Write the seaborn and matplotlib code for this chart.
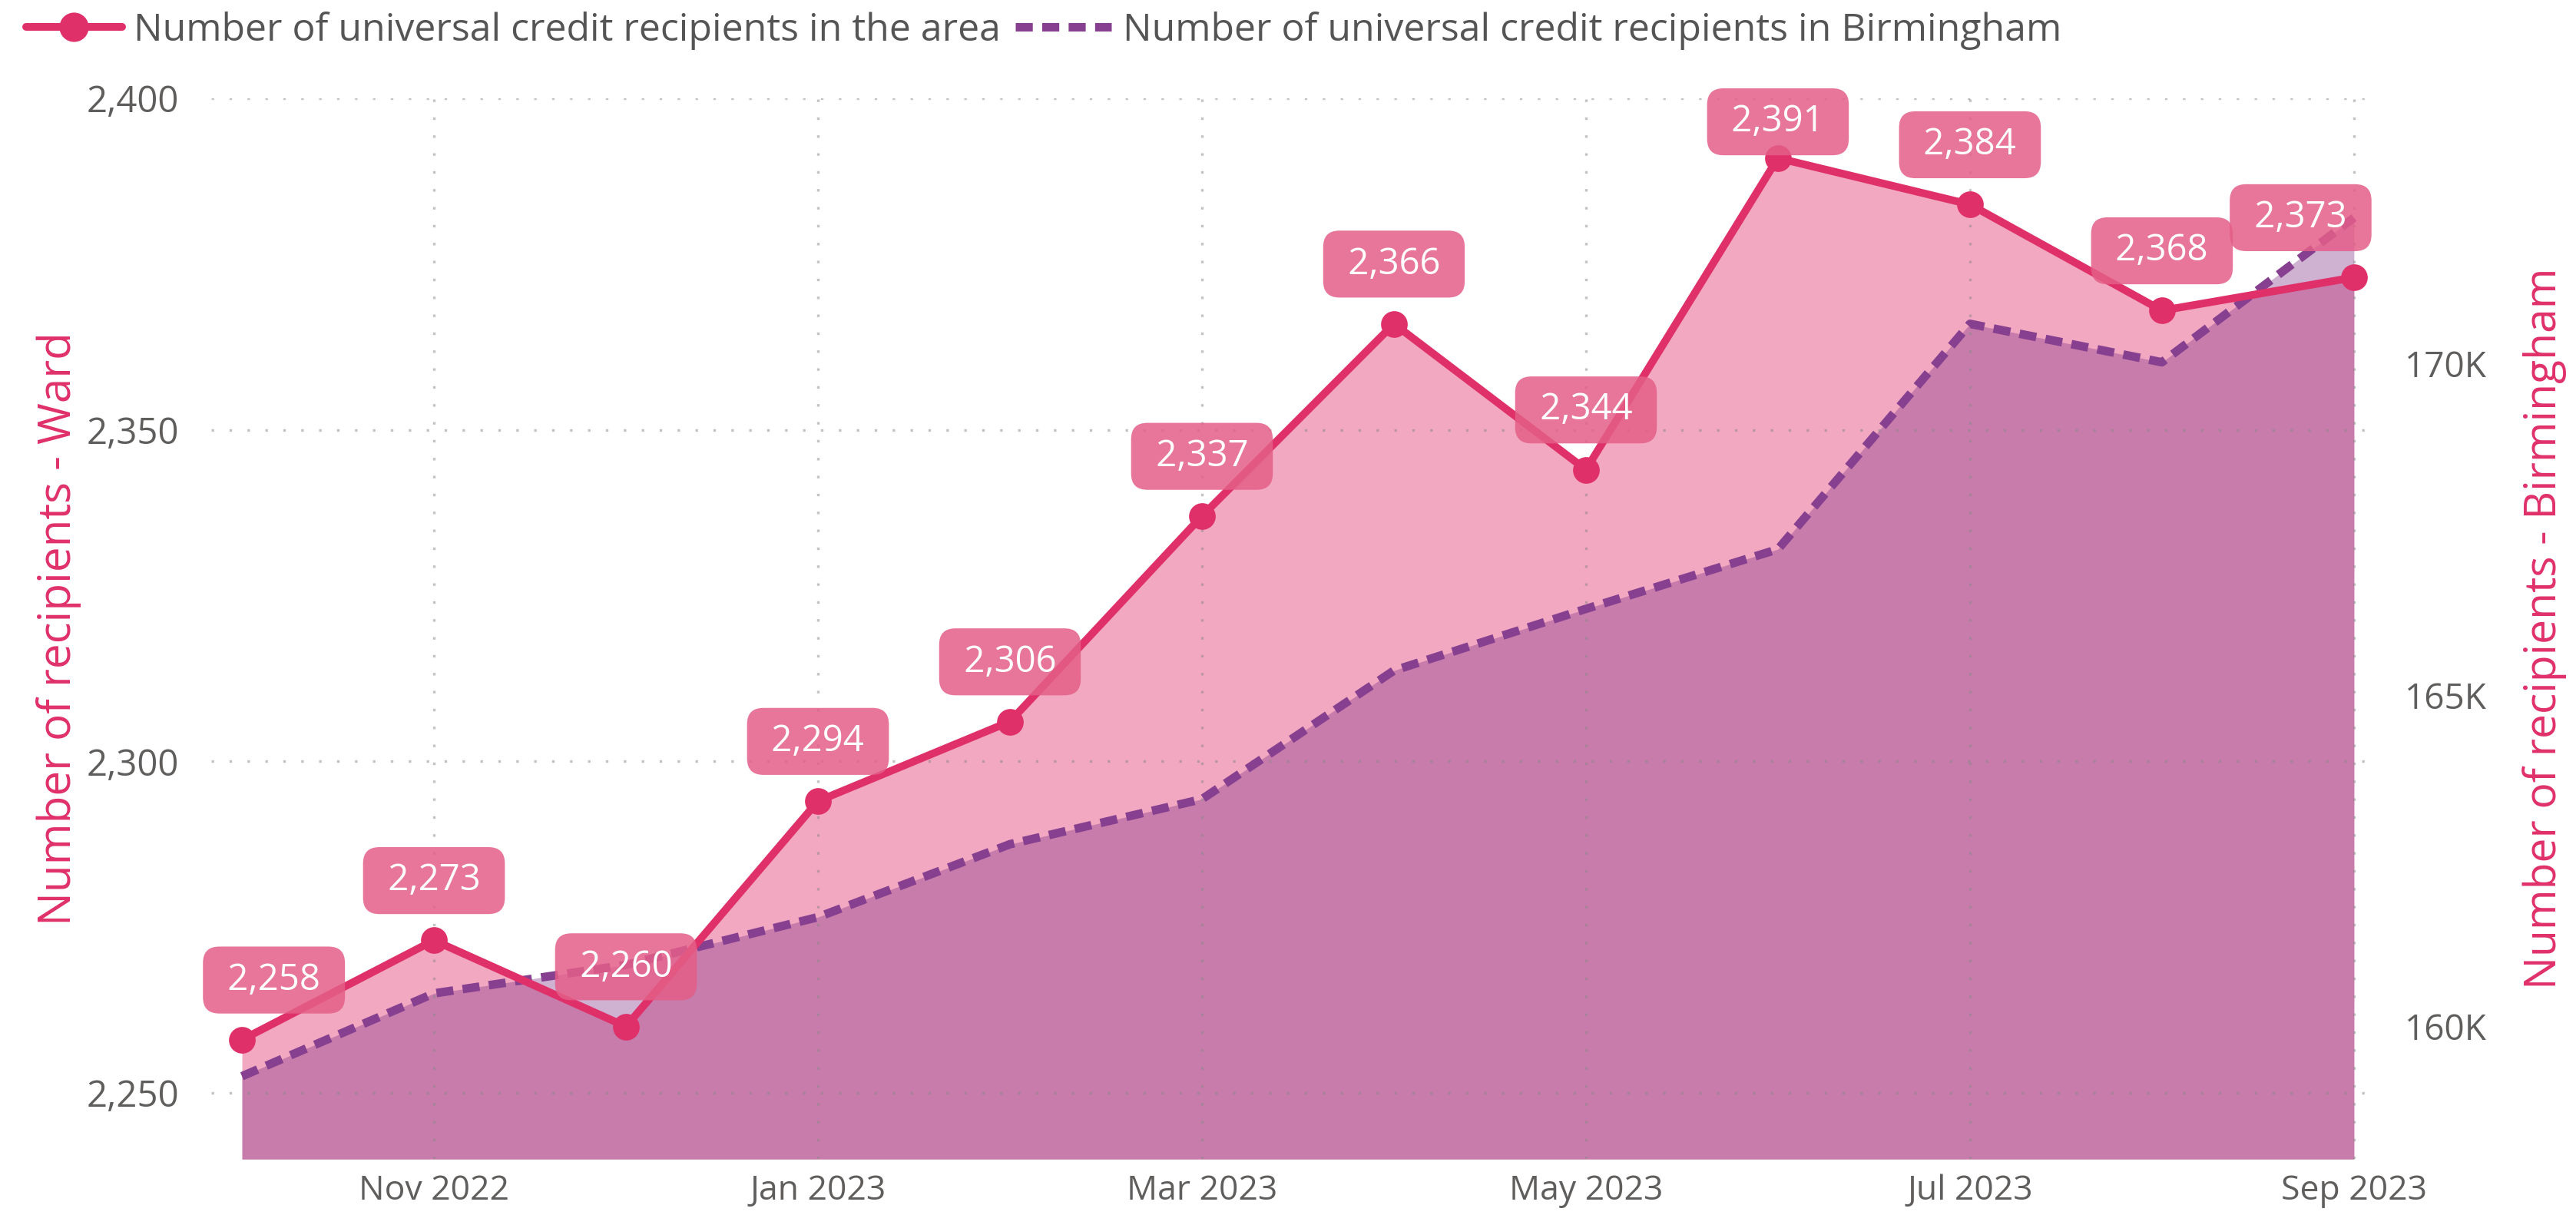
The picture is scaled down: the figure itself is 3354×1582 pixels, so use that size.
import seaborn as sns
import matplotlib.pyplot as plt
import pandas as pd
import numpy as np
from matplotlib.ticker import FuncFormatter

# data
months = ['Oct 2022', 'Nov 2022', 'Dec 2022', 'Jan 2023', 'Feb 2023', 'Mar 2023',
          'Apr 2023', 'May 2023', 'Jun 2023', 'Jul 2023', 'Aug 2023', 'Sep 2023']
ward = [2258, 2273, 2260, 2294, 2306, 2337, 2366, 2344, 2391, 2384, 2368, 2373]
birmingham = [159250, 160500, 160930, 161650, 162750, 163430,
              165370, 166300, 167200, 170600, 170020, 172200]
left_ticks = [2250, 2300, 2350, 2400]
right_ticks = [160000, 165000, 170000]

df = pd.DataFrame({'month': months, 'ward': ward, 'birmingham': birmingham})
df['pos'] = np.arange(len(df))

sns.set_theme(style='white')
plt.rcParams['font.family'] = ['Open Sans', 'DejaVu Sans']

pink = '#e0306a'
purple = '#86408f'
grey = '#605e5c'

fig, ax1 = plt.subplots(figsize=(16.77, 7.91), dpi=200)
fig.subplots_adjust(left=0.082, right=0.922, bottom=0.046, top=0.919)
ax2 = ax1.twinx()

# fills: ward area, then Birmingham area on the right-hand scale
ax1.fill_between(df['pos'], df['ward'], 2240, color=pink, alpha=0.42, lw=0, zorder=0.2)
ax1.fill_between(df['pos'], df['birmingham'], 158000, color='#873c8c', alpha=0.4, lw=0,
                 zorder=0.3, transform=ax2.transData)

# Birmingham dashed line (right scale)
sns.lineplot(data=df, x='pos', y='birmingham', ax=ax1, color=purple, lw=4.0,
             transform=ax2.transData, zorder=2.5,
             label='Number of universal credit recipients in Birmingham')
bline = ax1.lines[-1]
bline.set_linestyle((0, (2.0, 1.1)))

# ward line with markers
sns.lineplot(data=df, x='pos', y='ward', ax=ax1, color=pink, lw=3.6, marker='o',
             markersize=12.5, markeredgewidth=0, zorder=3,
             label='Number of universal credit recipients in the area')
wline = ax1.lines[-1]

# data labels
offsets = {0: (15, 28), 8: (0, 17), 11: (-25, 28)}
for i, v in enumerate(ward):
    dx, dy = offsets.get(i, (0, 28))
    ax1.annotate(f' {v:,} ', (i, v), xytext=(dx, dy), textcoords='offset points',
                 ha='center', va='center', color='white', fontsize=17,
                 annotation_clip=False, zorder=5,
                 bbox=dict(boxstyle='round,pad=0.42,rounding_size=0.45', fc='#e45e88',
                           ec='none', alpha=0.85))

# axes
ax1.set_xlim(-0.16, 11.11)
ax1.set_ylim(2240, 2400)
ax2.set_ylim(158000, 174000)
ax1.set_xticks(df['pos'][1::2])
ax1.set_xticklabels(df['month'][1::2])
ax1.set_yticks(left_ticks)
ax1.yaxis.set_major_formatter(FuncFormatter(lambda v, p: f'{v:,.0f}'))
ax2.set_yticks(right_ticks)
ax2.yaxis.set_major_formatter(FuncFormatter(lambda v, p: f'{v / 1000:.0f}K'))

ax1.tick_params(axis='x', length=0, pad=7, labelsize=16, labelcolor=grey)
ax1.tick_params(axis='y', length=0, pad=15, labelsize=17, labelcolor=grey)
ax2.tick_params(axis='y', length=0, pad=14, labelsize=16.5, labelcolor=grey)

ax1.grid(True, color='#888888', alpha=0.5, linestyle=(0, (1, 6)), linewidth=1.2)
ax1.set_axisbelow(True)
for ax in (ax1, ax2):
    for s in ax.spines.values():
        s.set_visible(False)

ax1.set_xlabel('')
ax1.set_ylabel('Number of recipients - Ward', color=pink, fontsize=21)
ax2.set_ylabel('Number of recipients - Birmingham', color=pink, fontsize=20.5, rotation=90)
ax1.yaxis.set_label_coords(-0.060, 0.5)
ax2.yaxis.set_label_coords(1.068, 0.5)

if ax1.get_legend() is not None:
    ax1.get_legend().remove()
leg = fig.legend([wline, bline],
                 ['Number of universal credit recipients in the area',
                  'Number of universal credit recipients in Birmingham'],
                 loc='center left', bbox_to_anchor=(0.010, 0.975), ncol=2, frameon=False,
                 fontsize=18, handlelength=2.5, handletextpad=0.3, columnspacing=0.4,
                 borderaxespad=0, borderpad=0, markerscale=1.1)
for t in leg.get_texts():
    t.set_color('#555555')

fig.savefig('out.png', dpi=200)
